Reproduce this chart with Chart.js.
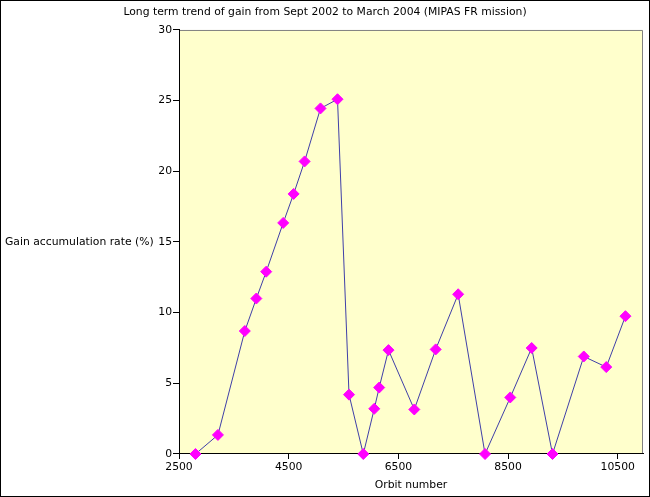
<!DOCTYPE html>
<html>
<head>
<meta charset="utf-8">
<script src="https://cdn.jsdelivr.net/npm/chart.js"></script>
<style>
  html, body { margin: 0; padding: 0; background: #fff; }
  #wrap { width: 650px; height: 497px; }
</style>
</head>
<body>
<div id="wrap"><canvas id="gain-chart" width="650" height="497"></canvas></div>
<script>
// Orbit number (x) and gain accumulation rate in % (y)
var orbits = [2800, 3210, 3700, 3910, 4090, 4400, 4590, 4790, 5080, 5390,
              5600, 5860, 6060, 6150, 6320, 6790, 7180, 7590, 8080, 8540,
              8930, 9310, 9880, 10290, 10640];
var gainRates = [0, 1.35, 8.7, 11.0, 12.9, 16.35, 18.4, 20.7, 24.45, 25.1,
                 4.2, 0, 3.2, 4.7, 7.35, 3.15, 7.4, 11.3, 0, 4.0,
                 7.5, 0, 6.9, 6.15, 9.75];
var xTicks = [2500, 4500, 6500, 8500, 10500];
var yTicks = [0, 5, 10, 15, 20, 25, 30];

var fontFamily = '"DejaVu Sans", sans-serif';
var fontSize = 10.8;

var points = orbits.map(function (o, i) { return { x: o, y: gainRates[i] }; });

// yellow plot background, grey top/right frame, outer black border, horizontal y title
var framePlugin = {
  id: 'frame',
  beforeDraw: function (chart) {
    var ctx = chart.ctx, a = chart.chartArea;
    ctx.save();
    ctx.fillStyle = '#ffffff';
    ctx.fillRect(0, 0, chart.width, chart.height);
    ctx.fillStyle = '#ffffcc';
    ctx.fillRect(a.left, a.top, a.right - a.left, a.bottom - a.top);
    ctx.strokeStyle = '#808080';
    ctx.lineWidth = 1;
    ctx.beginPath();
    ctx.moveTo(a.left, a.top + 0.5);
    ctx.lineTo(a.right - 0.5, a.top + 0.5);
    ctx.lineTo(a.right - 0.5, a.bottom);
    ctx.stroke();
    ctx.restore();
  },
  afterDraw: function (chart) {
    var ctx = chart.ctx, a = chart.chartArea;
    ctx.save();
    ctx.fillStyle = '#000';
    ctx.font = fontSize + 'px ' + fontFamily;
    ctx.textBaseline = 'middle';
    ctx.textAlign = 'left';
    ctx.fillText('Gain accumulation rate (%)', 5, (a.top + a.bottom) / 2);
    ctx.strokeStyle = '#000';
    ctx.lineWidth = 1;
    ctx.strokeRect(0.5, 0.5, chart.width - 1, chart.height - 1);
    ctx.restore();
  }
};

var chartData = {
  datasets: [{
    label: 'Gain',
    data: points,
    showLine: true,
    clip: false,
    borderColor: '#4040a8',
    borderWidth: 1,
    pointStyle: 'rectRot',
    pointRadius: 5.5,
    pointBorderWidth: 1,
    pointBackgroundColor: '#ff00ff',
    pointBorderColor: '#ff00ff',
    tension: 0
  }]
};

var chartOptions = {
  responsive: false,
  animation: false,
  layout: { padding: { left: 7, right: 7, top: 0, bottom: 0 } },
  plugins: {
    legend: { display: false },
    tooltip: { enabled: false },
    title: {
      display: true,
      text: 'Long term trend of gain from Sept 2002 to March 2004 (MIPAS FR mission)',
      color: '#000',
      font: { family: fontFamily, size: fontSize, weight: 'normal' },
      padding: { top: 6, bottom: 11 }
    }
  },
  scales: {
    x: {
      type: 'linear',
      position: 'bottom',
      min: 2500,
      max: 10960,
      afterBuildTicks: function (scale) {
        scale.ticks = xTicks.map(function (v) { return { value: v }; });
      },
      afterFit: function (scale) { scale.height = 43; },
      grid: { drawOnChartArea: false, drawTicks: true, tickLength: 5, color: '#000' },
      border: { display: true, color: '#000', width: 1 },
      ticks: {
        color: '#000',
        padding: 2,
        maxRotation: 0,
        font: { family: fontFamily, size: fontSize },
        callback: function (value) { return String(value); }
      },
      title: {
        display: true,
        text: 'Orbit number',
        color: '#000',
        font: { family: fontFamily, size: fontSize },
        padding: { top: 0, bottom: 5 }
      }
    },
    y: {
      type: 'linear',
      position: 'left',
      min: 0,
      max: 30,
      afterBuildTicks: function (scale) {
        scale.ticks = yTicks.map(function (v) { return { value: v }; });
      },
      afterFit: function (scale) { scale.width = 172; },
      grid: { drawOnChartArea: false, drawTicks: true, tickLength: 6, color: '#000' },
      border: { display: true, color: '#000', width: 1 },
      ticks: { color: '#000', padding: 1, font: { family: fontFamily, size: fontSize } }
    }
  }
};

var gainChart = new Chart(document.getElementById('gain-chart'), {
  type: 'scatter',
  data: chartData,
  options: chartOptions,
  plugins: [framePlugin]
});
</script>
</body>
</html>
